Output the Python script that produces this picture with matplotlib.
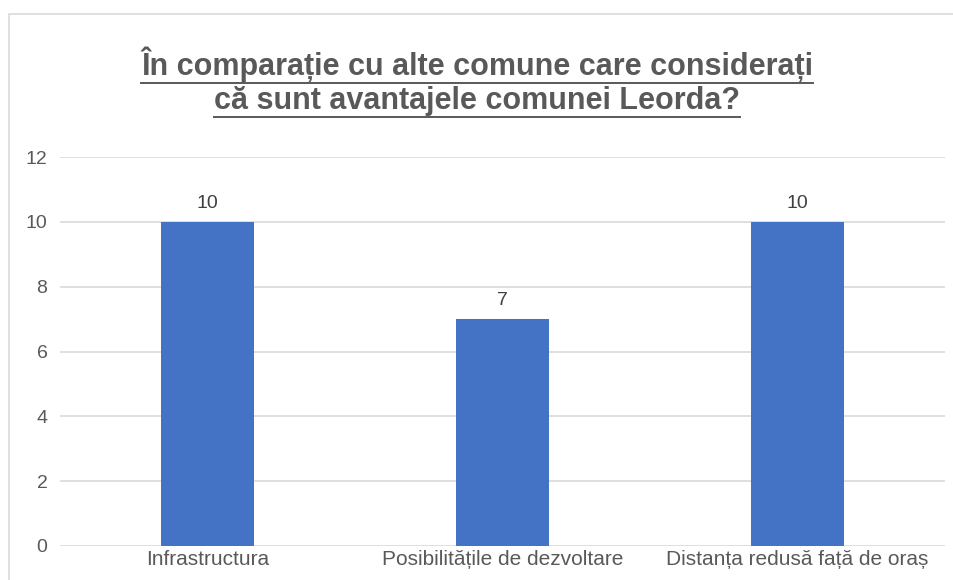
import matplotlib.pyplot as plt
from matplotlib.patches import Rectangle
from matplotlib.lines import Line2D

# ==========================================
# DATA
# ==========================================

categories = ['Infrastructura', 'Posibilitățile de dezvoltare', 'Distanța redusă față de oraș']
values = [10, 7, 10]
y_ticks = [0, 2, 4, 6, 8, 10, 12]
title_lines = ['În comparație cu alte comune care considerați',
               'că sunt avantajele comunei Leorda?']

text_color = '#595959'
bar_color = '#4472C4'
grid_color = '#D9D9D9'

plt.rcParams['font.family'] = ['Liberation Sans', 'DejaVu Sans']

# ==========================================
# FIGURE
# ==========================================

fig = plt.figure(figsize=(9.54, 5.8), dpi=100)

# chart border (cut off at right and bottom like the screenshot)
fig.patches.append(Rectangle((9 / 954, -0.1), 1.2, 1 - 14 / 580 + 0.1,
                             transform=fig.transFigure, fill=False,
                             edgecolor='#D9D9D9', linewidth=1.2))

ax = fig.add_axes([60 / 954, 1 - 546 / 580, (945 - 60) / 954, (546 - 157) / 580])

x = range(len(categories))
bars = ax.bar(x, values, width=0.315, color=bar_color, zorder=3)

for xi, v in zip(x, values):
    ax.text(xi, v + 0.3, str(v), ha='center', va='bottom', fontsize=14, color='#404040')

ax.set_xlim(-0.5, len(categories) - 0.5)
ax.set_ylim(0, 12)
ax.set_yticks(y_ticks)
ax.set_xticks(list(x))
ax.set_xticklabels(categories)
ax.tick_params(axis='both', length=0, labelsize=14, labelcolor=text_color)
ax.tick_params(axis='x', labelsize=15, pad=3)
ax.tick_params(axis='y', pad=9)
ax.grid(axis='y', color=grid_color, linewidth=1.2, zorder=0)
for s in ax.spines.values():
    s.set_visible(False)

# ==========================================
# TITLE WITH UNDERLINE
# ==========================================

title_y = [64 / 580, 101 / 580]
fig.canvas.draw()
renderer = fig.canvas.get_renderer()
for line, ty in zip(title_lines, title_y):
    t = fig.text(0.5, 1 - ty, line, ha='center', va='center', fontsize=22,
                 fontweight='bold', color=text_color)
    bb = t.get_window_extent(renderer=renderer).transformed(fig.transFigure.inverted())
    uy = bb.y0 - 0.002
    fig.add_artist(Line2D([bb.x0, bb.x1], [uy, uy], transform=fig.transFigure,
                          color=text_color, linewidth=1.4))

fig.savefig('out.png', dpi=100)
